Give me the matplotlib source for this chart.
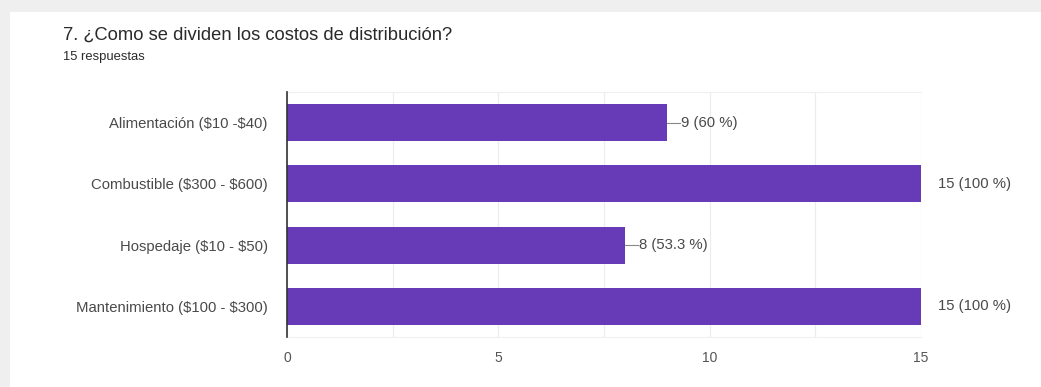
import matplotlib.pyplot as plt
from matplotlib.patches import Rectangle

plt.rcParams['font.family'] = ['Liberation Sans', 'DejaVu Sans']

categorias = ['Alimentación ($10 -$40)', 'Combustible ($300 - $600)',
              'Hospedaje ($10 - $50)', 'Mantenimiento ($100 - $300)']
respuestas = [9, 15, 8, 15]
porcentajes = ['60 %', '100 %', '53.3 %', '100 %']
total = 15

fig = plt.figure(figsize=(10.41, 3.87), dpi=100)
fig.patch.set_facecolor('#efefef')
# tarjeta blanca
fig.patches.append(Rectangle((10 / 1041, 0), 1, 1 - 12 / 387, transform=fig.transFigure,
                             facecolor='white', edgecolor='none', zorder=-10))

fig.text(63 / 1041, 1 - 35 / 387, '7. ¿Como se dividen los costos de distribución?',
         fontsize=13.2, color='#2a2a2a', va='center')
fig.text(63 / 1041, 1 - 57 / 387, f'{total} respuestas', fontsize=9.4, color='#2a2a2a', va='center')

ax = fig.add_axes([287 / 1041, 1 - 337 / 387, 634 / 1041, 245 / 387])
ax.set_facecolor('none')
y = list(range(len(categorias)))
ax.barh(y, respuestas, height=0.6, color='#673ab7', zorder=3)
ax.set_ylim(len(categorias) - 0.5, -0.5)
ax.set_xlim(0, total)
ax.set_yticks(y)
# escapar "$" para que no se interprete como mathtext
ax.set_yticklabels([c.replace('$', r'\$') for c in categorias], fontsize=10.7, color='#4a4a4a')
ax.set_xticks([0, 5, 10, 15])
ax.set_xticks([2.5, 7.5, 12.5], minor=True)
ax.tick_params(axis='x', which='both', length=0, labelsize=10, labelcolor='#555555', pad=10)
ax.tick_params(axis='y', length=0, pad=14)
ax.grid(axis='x', which='both', color='#ececec', lw=0.8, zorder=0)
for s in ['top', 'bottom']:
    ax.spines[s].set_color('#f0f0f0')
    ax.spines[s].set_linewidth(0.8)
ax.spines['right'].set_visible(False)
ax.spines['left'].set_color('#333333')
ax.spines['left'].set_linewidth(1.2)
ax.spines['left'].set_zorder(4)

for yi, v, p in zip(y, respuestas, porcentajes):
    etiqueta = f'{v} ({p})'
    if v < total:
        ax.plot([v, v + 0.3], [yi, yi], color='#888888', lw=0.8, zorder=3)
        ax.text(v + 0.32, yi, etiqueta, va='center', ha='left', fontsize=10.7, color='#4a4a4a')
    else:
        ax.text(v + 0.4, yi, etiqueta, va='center', ha='left', fontsize=10.7, color='#4a4a4a',
                clip_on=False)

fig.savefig('out.png', dpi=100, facecolor=fig.get_facecolor())
